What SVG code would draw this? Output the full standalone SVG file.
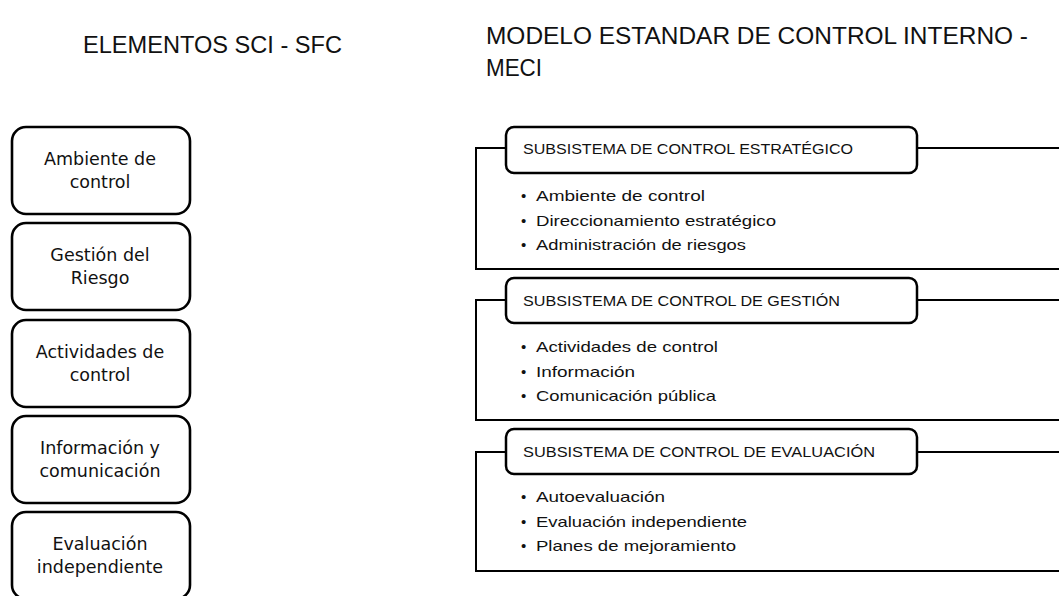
<svg xmlns="http://www.w3.org/2000/svg" width="1059" height="596" viewBox="0 0 1059 596">
<style>
.bg{fill:#ffffff}
.lbox{fill:#ffffff;stroke:#000;stroke-width:2.6}
.ltxt{font-family:"DejaVu Sans",sans-serif;font-size:17.5px;fill:#111;text-anchor:middle}
.title{font-family:"Liberation Sans",sans-serif;font-size:24px;fill:#111}
.hbox{fill:#ffffff;stroke:#000;stroke-width:2.5}
.htxt{font-family:"Liberation Sans",sans-serif;font-size:15px;fill:#111}
.btxt{font-family:"Liberation Sans",sans-serif;font-size:15px;fill:#111}
.frame{fill:none;stroke:#000;stroke-width:2}
</style>
<rect class="bg" x="0" y="0" width="1059" height="596"/>

<g id="titles">
<text class="title" x="83" y="53" textLength="259" lengthAdjust="spacingAndGlyphs">ELEMENTOS SCI - SFC</text>
<text class="title" x="486" y="44" textLength="542" lengthAdjust="spacingAndGlyphs">MODELO ESTANDAR DE CONTROL INTERNO -</text>
<text class="title" x="486" y="76" textLength="56" lengthAdjust="spacingAndGlyphs">MECI</text>
</g>

<g id="sci-ambiente">
<rect class="lbox" x="12" y="127" width="178" height="87" rx="14"/>
<text class="ltxt" x="100" y="165">Ambiente de</text>
<text class="ltxt" x="100" y="188">control</text>
</g>
<g id="sci-riesgo">
<rect class="lbox" x="12" y="223" width="178" height="87" rx="14"/>
<text class="ltxt" x="100" y="261">Gestión del</text>
<text class="ltxt" x="100" y="284">Riesgo</text>
</g>
<g id="sci-actividades">
<rect class="lbox" x="12" y="320" width="178" height="87" rx="14"/>
<text class="ltxt" x="100" y="358">Actividades de</text>
<text class="ltxt" x="100" y="381">control</text>
</g>
<g id="sci-informacion">
<rect class="lbox" x="12" y="416" width="178" height="87" rx="14"/>
<text class="ltxt" x="100" y="454">Información y</text>
<text class="ltxt" x="100" y="477">comunicación</text>
</g>
<g id="sci-evaluacion">
<rect class="lbox" x="12" y="512" width="178" height="87" rx="14"/>
<text class="ltxt" x="100" y="550">Evaluación</text>
<text class="ltxt" x="100" y="573">independiente</text>
</g>

<g id="connectors">
<path class="frame" d="M506 148 H476 V269 H1062 M917 148 H1062"/>
<path class="frame" d="M506 300 H476 V420 H1062 M917 300 H1062"/>
<path class="frame" d="M506 452 H476 V571 H1062 M917 452 H1062"/>
</g>

<g id="meci-estrategico">
<rect class="hbox" x="506" y="127" width="411" height="46" rx="8"/>
<text class="htxt" x="523" y="154" textLength="330" lengthAdjust="spacingAndGlyphs">SUBSISTEMA DE CONTROL ESTRATÉGICO</text>
<text class="btxt" x="521" y="201">•</text>
<text class="btxt" x="536" y="201" textLength="169" lengthAdjust="spacingAndGlyphs">Ambiente de control</text>
<text class="btxt" x="521" y="226">•</text>
<text class="btxt" x="536" y="226" textLength="240" lengthAdjust="spacingAndGlyphs">Direccionamiento estratégico</text>
<text class="btxt" x="521" y="250">•</text>
<text class="btxt" x="536" y="250" textLength="210" lengthAdjust="spacingAndGlyphs">Administración de riesgos</text>
</g>

<g id="meci-gestion">
<rect class="hbox" x="506" y="278" width="411" height="45" rx="8"/>
<text class="htxt" x="523" y="306" textLength="317" lengthAdjust="spacingAndGlyphs">SUBSISTEMA DE CONTROL DE GESTIÓN</text>
<text class="btxt" x="521" y="352">•</text>
<text class="btxt" x="536" y="352" textLength="182" lengthAdjust="spacingAndGlyphs">Actividades de control</text>
<text class="btxt" x="521" y="377">•</text>
<text class="btxt" x="536" y="377" textLength="99" lengthAdjust="spacingAndGlyphs">Información</text>
<text class="btxt" x="521" y="401">•</text>
<text class="btxt" x="536" y="401" textLength="180" lengthAdjust="spacingAndGlyphs">Comunicación pública</text>
</g>

<g id="meci-evaluacion">
<rect class="hbox" x="506" y="429" width="411" height="45" rx="8"/>
<text class="htxt" x="523" y="457" textLength="352" lengthAdjust="spacingAndGlyphs">SUBSISTEMA DE CONTROL DE EVALUACIÓN</text>
<text class="btxt" x="521" y="502">•</text>
<text class="btxt" x="536" y="502" textLength="129" lengthAdjust="spacingAndGlyphs">Autoevaluación</text>
<text class="btxt" x="521" y="527">•</text>
<text class="btxt" x="536" y="527" textLength="211" lengthAdjust="spacingAndGlyphs">Evaluación independiente</text>
<text class="btxt" x="521" y="551">•</text>
<text class="btxt" x="536" y="551" textLength="200" lengthAdjust="spacingAndGlyphs">Planes de mejoramiento</text>
</g>
</svg>
